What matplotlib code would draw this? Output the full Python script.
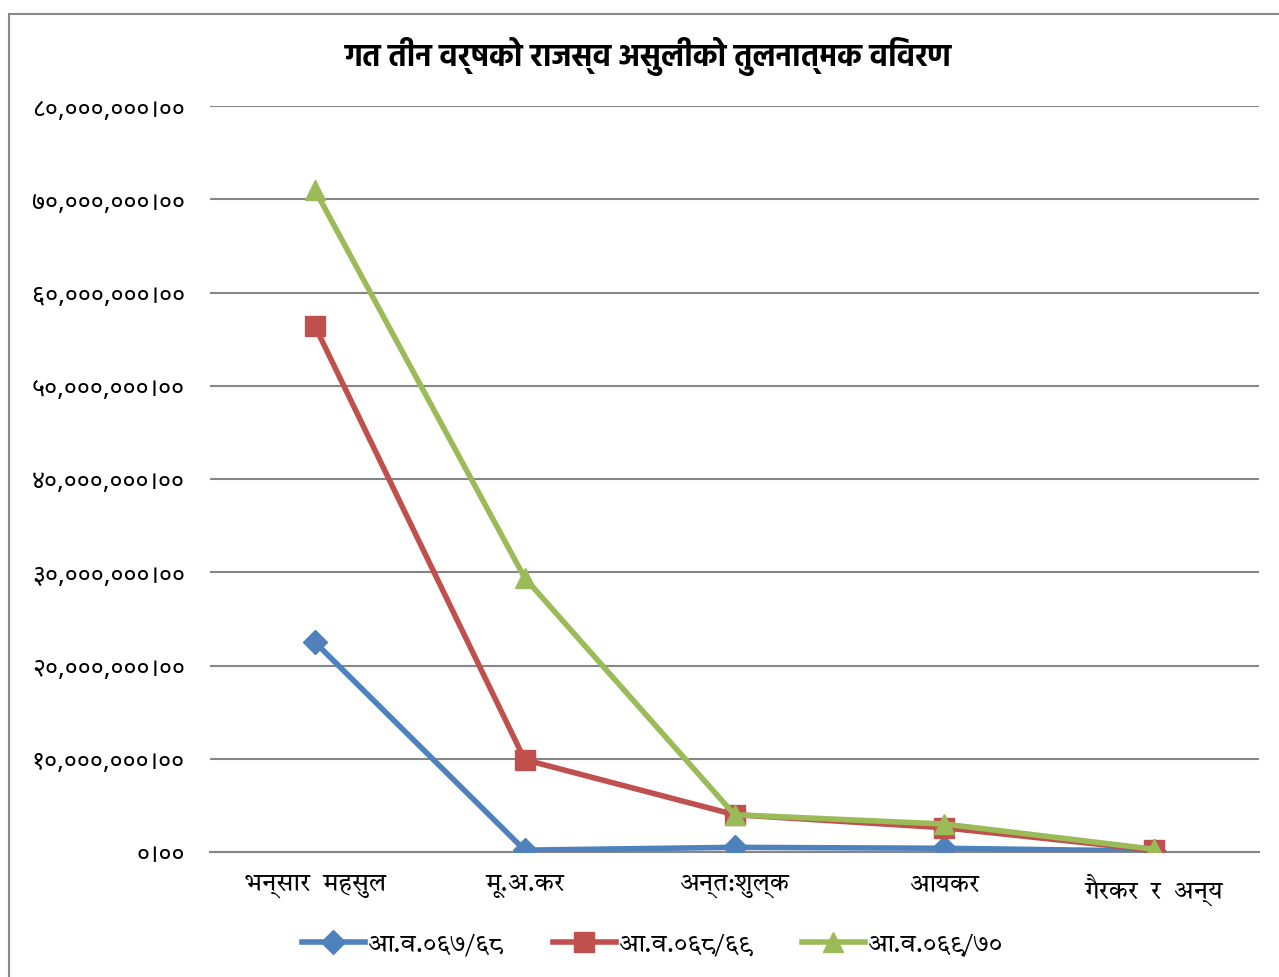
import matplotlib
matplotlib.use("Agg")
import matplotlib.pyplot as plt
from matplotlib import font_manager
from matplotlib.lines import Line2D

# fuentes devanagari disponibles
nombres_fuentes = {f.name for f in font_manager.fontManager.ttflist}


def elegir(*opciones):
    return [o for o in opciones if o in nombres_fuentes][:1] + ["DejaVu Sans"]


f_titulo = elegir("Hind", "Mukta", "Noto Sans Devanagari")
f_eje_y = elegir("Noto Sans Devanagari", "Mukta", "Hind")
f_texto = elegir("Tiro Devanagari Hindi", "Hind")
plt.rcParams["font.family"] = f_texto

# datos
categorias = ["भन्सार  महसुल", "मू.अ.कर", "अन्त:शुल्क", "आयकर", "गैरकर  र  अन्य"]
serie_067 = [22.5e6, 0.2e6, 0.5e6, 0.4e6, 0.1e6]
serie_068 = [56.4e6, 9.9e6, 4.0e6, 2.6e6, 0.2e6]
serie_069 = [71.0e6, 29.4e6, 4.0e6, 3.0e6, 0.3e6]
nombres = ["आ.व.०६७/६८", "आ.व.०६८/६९", "आ.व.०६९/७०"]
y_ticks = [0, 10e6, 20e6, 30e6, 40e6, 50e6, 60e6, 70e6, 80e6]
y_labels = ["०।००", "१०,०००,०००।००", "२०,०००,०००।००", "३०,०००,०००।००",
            "४०,०००,०००।००", "५०,०००,०००।००", "६०,०००,०००।००",
            "७०,०००,०००।००", "८०,०००,०००।००"]
titulo = "गत तीन वर्षको राजस्व असुलीको तुलनात्मक विवरण"

colores = ["#4F81BD", "#C0504D", "#9BBB59"]
marcadores = ["D", "s", "^"]
tam = [12, 14, 15]

fig = plt.figure(figsize=(12.79, 9.78), dpi=100)
# marco del grafico
fig.add_artist(Line2D([9 / 1279, 9 / 1279], [0, 1 - 15 / 978], color="#888888", lw=1.5))
fig.add_artist(Line2D([9 / 1279, 1], [1 - 15 / 978, 1 - 15 / 978], color="#888888", lw=1.5))

ax = fig.add_axes([210 / 1279, 1 - 853 / 978, 1049 / 1279, (853 - 107) / 978])
x = list(range(len(categorias)))
for serie, nom, c, m, s in zip([serie_067, serie_068, serie_069], nombres, colores, marcadores, tam):
    ax.plot(x, serie, color=c, lw=4, marker=m, markersize=s, label=nom, zorder=3)

ax.set_xlim(-0.5, 4.5)
ax.set_ylim(0, 80e6)
ax.set_yticks(y_ticks)
ax.set_yticklabels(y_labels, fontsize=18, family=f_eje_y)
ax.set_xticks(x)
ax.set_xticklabels(categorias, fontsize=18)
ax.tick_params(axis="both", length=0)
ax.tick_params(axis="y", pad=18)
ax.tick_params(axis="x", pad=15)
ax.yaxis.grid(True, color="#868686", lw=1.5)
ax.set_axisbelow(True)
for lado in ["left", "right", "top"]:
    ax.spines[lado].set_visible(False)
ax.spines["bottom"].set_color("#868686")
ax.spines["bottom"].set_linewidth(1.5)

fig.text(0.507, 1 - 57 / 978, titulo, ha="center", va="center", fontsize=22,
         fontweight="bold", family=f_titulo)
fig.legend(loc="center", bbox_to_anchor=(0.51, 1 - 945 / 978), ncol=3, frameon=False,
           fontsize=18, handlelength=2.5, columnspacing=2.0, handletextpad=0.1)

plt.savefig("out.png", dpi=100)
